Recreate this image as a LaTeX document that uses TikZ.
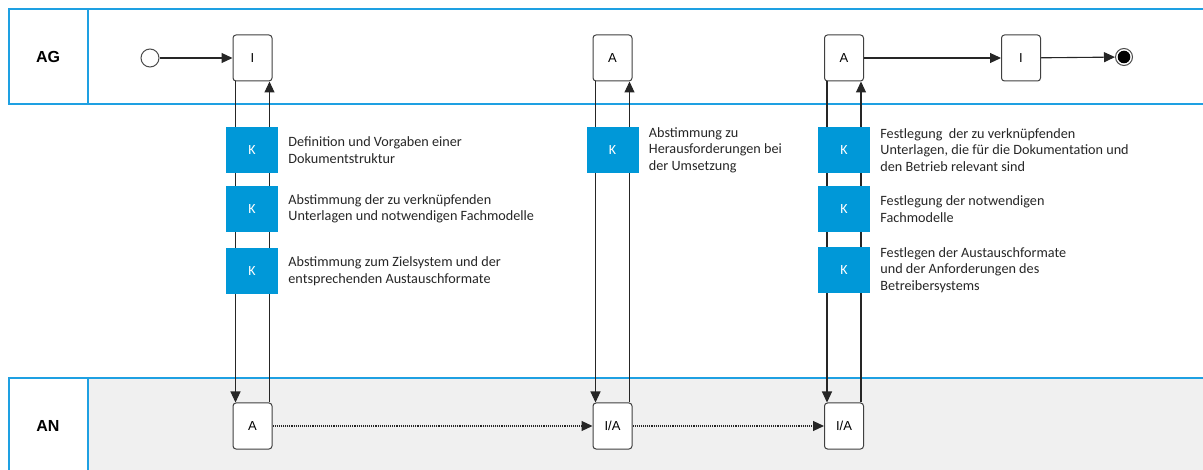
\documentclass[tikz,border=0pt]{standalone}
\usepackage{fontspec}
\setmainfont{Carlito}
\newfontfamily\arialfont{Liberation Sans}
\usepackage{xcolor}
\usepackage{tikz}
\usetikzlibrary{arrows.meta, positioning}

\definecolor{lanecol}{RGB}{30,160,226}
\definecolor{kblue}{RGB}{0,152,216}
\definecolor{lanegray}{RGB}{240,240,240}

\begin{document}
\begin{tikzpicture}[
  x=1pt, y=-1pt,
  lanebox/.style = {draw=lanecol, line width=1.7pt},
  lanelbl/.style = {font=\arialfont\bfseries\fontsize{16}{18}\selectfont},
  actbox/.style  = {draw=black!75, fill=white, rounded corners=3pt,
                    line width=1pt, minimum width=39pt, minimum height=46pt,
                    inner sep=0pt, font=\arialfont\fontsize{13}{15}\selectfont},
  kbox/.style    = {fill=kblue, text=white, minimum width=52pt,
                    minimum height=46pt, inner sep=0pt,
                    font=\fontsize{14}{16}\selectfont},
  ktext/.style   = {right=10pt, anchor=west, align=left, inner sep=0pt,
                    text=black!85, font=\fontsize{14.2}{16.5}\selectfont},
  startev/.style = {circle, draw=black!70, line width=1pt, fill=white,
                    minimum size=18pt, inner sep=0pt},
  endev/.style   = {circle, draw=black!70, line width=1pt, fill=white,
                    minimum size=17pt, inner sep=0pt,
                    path picture={\fill[black] (path picture bounding box.center)
                                  circle (6.3pt);}},
  flow/.style    = {draw=black!85, line width=1.1pt,
                    -{Triangle[length=11pt, width=10pt]}},
  msg/.style     = {draw=black!85, line width=1.1pt, densely dotted,
                    -{Triangle[length=11pt, width=10pt]}},
]
\clip (0,0) rectangle (1203,470);

%% ── Lanes ───────────────────────────────────────────────────────────────────
\fill[lanegray] (88,378) rectangle (1215,480);
\draw[lanebox] (9,9) rectangle (1215,104);
\draw[lanebox] (88,9) -- (88,104);
\draw[lanebox] (9,378) rectangle (1215,480);
\draw[lanebox] (88,378) -- (88,480);
\node[lanelbl] (lag) at (48,57)  {AG};
\node[lanelbl] (lan) at (48,426) {AN};

%% ── AG lane ─────────────────────────────────────────────────────────────────
\node[startev] (start) at (150,58) {};
\node[actbox]  (ag1) at (252.5,58) {I};
\node[actbox]  (ag2) at (612.5,58) {A};
\node[actbox]  (ag3) at (844,58)   {A};
\node[actbox]  (ag4) at (1021,58)  {I};
\node[endev]   (stop) at (1124,57) {};

%% ── AN lane ─────────────────────────────────────────────────────────────────
\node[actbox] (an1) at (252.5,426) {A};
\node[actbox] (an2) at (612.5,426) {I/A};
\node[actbox] (an3) at (844,426)   {I/A};

%% ── connectors ──────────────────────────────────────────────────────────────
\draw[flow] (start) -- (ag1);
\draw[flow] (ag3) -- (ag4);
\draw[flow] (ag4) -- (stop);
\draw[msg]  (an1) -- (an2);
\draw[msg]  (an2) -- (an3);

\foreach \top/\bot in {ag1/an1, ag2/an2, ag3/an3} {
  \draw[flow] ([xshift=-17pt]\top.south) -- ([xshift=-17pt]\bot.north);
  \draw[flow] ([xshift=17pt]\bot.north) -- ([xshift=17pt]\top.south);
}

%% ── coordination steps ──────────────────────────────────────────────────────
\node[kbox] (k11) at (252,150) {K};
\node[kbox] (k12) at (252,209) {K};
\node[kbox] (k13) at (252,271) {K};
\node[ktext] (t11) at (k11.east) {Definition und Vorgaben einer\\Dokumentstruktur};
\node[ktext] (t12) at (k12.east) {Abstimmung der zu verknüpfenden\\Unterlagen und notwendigen Fachmodelle};
\node[ktext] (t13) at (k13.east) {Abstimmung zum Zielsystem und der\\entsprechenden Austauschformate};

\node[kbox] (k21) at (612.5,150) {K};
\node[ktext] (t21) at (k21.east) {Abstimmung zu\\Herausforderungen bei\\der Umsetzung};

\node[kbox] (k31) at (844,150) {K};
\node[kbox] (k32) at (844,209) {K};
\node[kbox] (k33) at (844,270) {K};
\node[ktext] (t31) at (k31.east) {Festlegung \ der zu verknüpfenden\\Unterlagen, die für die Dokumentation und\\den Betrieb relevant sind};
\node[ktext] (t32) at (k32.east) {Festlegung der notwendigen\\Fachmodelle};
\node[ktext] (t33) at (k33.east) {Festlegen der Austauschformate\\und der Anforderungen des\\Betreibersystems};

\end{tikzpicture}
\end{document}
